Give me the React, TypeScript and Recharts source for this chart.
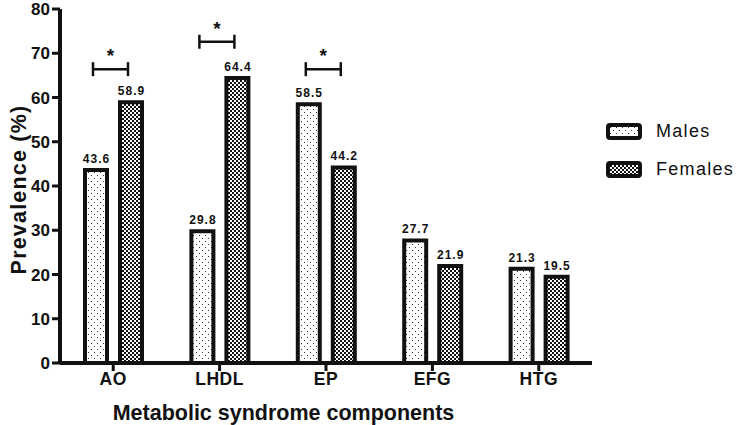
import React from "react";
import { BarChart, Bar, XAxis, YAxis, LabelList } from "recharts";

const categories = ["AO", "LHDL", "EP", "EFG", "HTG"];
const males = [43.6, 29.8, 58.5, 27.7, 21.3];
const females = [58.9, 64.4, 44.2, 21.9, 19.5];
// significance bracket level (%) for each category, null = none
const bracketLevels = [66.4, 72.6, 66.4, null, null];
const yTicks = [0, 10, 20, 30, 40, 50, 60, 70, 80];

const data = categories.map((name, i) => ({
    name,
    males: males[i],
    females: females[i],
}));

const FONT = "'Liberation Sans', Arial, sans-serif";
const BAR_GAP = 13;

const Patterns = () => (
    <svg width={0} height={0} style={{ position: "absolute" }}>
        <defs>
            <pattern id="dots" width={6} height={6} patternUnits="userSpaceOnUse">
                <rect width={6} height={6} fill="#fff" />
                <rect x={1} y={1} width={1} height={1} fill="#333" />
                <rect x={4} y={4} width={1} height={1} fill="#333" />
            </pattern>
            <pattern id="checks" width={4} height={4} patternUnits="userSpaceOnUse">
                <rect width={4} height={4} fill="#fff" />
                <rect x={0} y={0} width={2} height={2} fill="#111" />
                <rect x={2} y={2} width={2} height={2} fill="#111" />
            </pattern>
        </defs>
    </svg>
);

const ValueText = ({ x, y, width, value }: any) => (
    <text
        x={x + width / 2 + 0.5}
        y={y - 7}
        textAnchor="middle"
        fontFamily={FONT}
        fontWeight="bold"
        fontSize={12}
        letterSpacing={1}
        fill="#111"
    >
        {value}
    </text>
);

const MaleLabel = (props: any) => {
    const { x, y, width, height, value, index } = props;
    const level = bracketLevels[index];
    let bracket = null;
    if (level != null) {
        const pxPerUnit = height / value;
        const by = y + height - level * pxPerUnit;
        const x1 = x + width / 2 - 3;
        const x2 = x1 + width + BAR_GAP;
        bracket = (
            <g stroke="#111" strokeWidth={2.5}>
                <line x1={x1} x2={x2} y1={by} y2={by} />
                <line x1={x1} x2={x1} y1={by - 7} y2={by + 7} />
                <line x1={x2} x2={x2} y1={by - 7} y2={by + 7} />
                <text
                    x={(x1 + x2) / 2}
                    y={by - 7}
                    textAnchor="middle"
                    fontFamily={FONT}
                    fontWeight="bold"
                    fontSize={19}
                    fill="#111"
                    stroke="none"
                >
                    *
                </text>
            </g>
        );
    }
    return (
        <g>
            <ValueText {...props} />
            {bracket}
        </g>
    );
};

const LegendBox = () => (
    <div
        style={{
            position: "absolute",
            left: 606,
            top: 112,
            fontFamily: FONT,
            fontSize: 18,
            letterSpacing: 1.3,
            color: "#111",
        }}
    >
        {[
            { label: "Males", fill: "url(#dots)" },
            { label: "Females", fill: "url(#checks)" },
        ].map((it) => (
            <div key={it.label} style={{ display: "flex", alignItems: "center", height: 38 }}>
                <svg width={36} height={17} style={{ marginRight: 14 }}>
                    <rect x={2} y={2} width={32} height={13} rx={2} fill={it.fill} stroke="#111" strokeWidth={4} />
                </svg>
                <span>{it.label}</span>
            </div>
        ))}
    </div>
);

const XTitle = ({ viewBox }: any) => (
    <text
        x={283.5}
        y={viewBox.y + viewBox.height - 5}
        textAnchor="middle"
        fontFamily={FONT}
        fontWeight="bold"
        fontSize={21.5}
        fill="#111"
    >
        Metabolic syndrome components
    </text>
);

const YTitle = ({ viewBox }: any) => (
    <text
        transform={`translate(26, ${viewBox.y + viewBox.height / 2 + 3.5}) rotate(-90)`}
        textAnchor="middle"
        fontFamily={FONT}
        fontWeight="bold"
        fontSize={21.5}
        letterSpacing={1.2}
        fill="#111"
    >
        Prevalence (%)
    </text>
);

export default function App() {
    return (
        <div style={{ position: "absolute", left: 0, top: 0, width: 736, height: 425 }}>
            <Patterns />
            <BarChart
                width={736}
                height={425}
                data={data}
                margin={{ top: 9, right: 144, bottom: 0, left: 0 }}
                barGap={BAR_GAP}
                barSize={22}
            >
                <XAxis
                    dataKey="name"
                    height={62}
                    axisLine={{ stroke: "#111", strokeWidth: 4 }}
                    tickLine={{ stroke: "#111", strokeWidth: 3 }}
                    tickSize={8}
                    tick={{ fill: "#111", fontSize: 17.5, fontWeight: "bold", fontFamily: FONT, letterSpacing: 0.5 }}
                    label={{ content: <XTitle /> }}
                />
                <YAxis
                    width={60}
                    domain={[0, 80]}
                    ticks={yTicks}
                    interval={0}
                    axisLine={{ stroke: "#111", strokeWidth: 4 }}
                    tickLine={{ stroke: "#111", strokeWidth: 3 }}
                    tickSize={8}
                    tick={{ fill: "#111", fontSize: 17, fontWeight: "bold", fontFamily: FONT }}
                    label={{ content: <YTitle /> }}
                />
                <Bar dataKey="males" name="Males" fill="url(#dots)" stroke="#111" strokeWidth={4} isAnimationActive={false}>
                    <LabelList dataKey="males" content={<MaleLabel />} />
                </Bar>
                <Bar dataKey="females" name="Females" fill="url(#checks)" stroke="#111" strokeWidth={4} isAnimationActive={false}>
                    <LabelList dataKey="females" content={<ValueText />} />
                </Bar>
            </BarChart>
            <LegendBox />
        </div>
    );
}
